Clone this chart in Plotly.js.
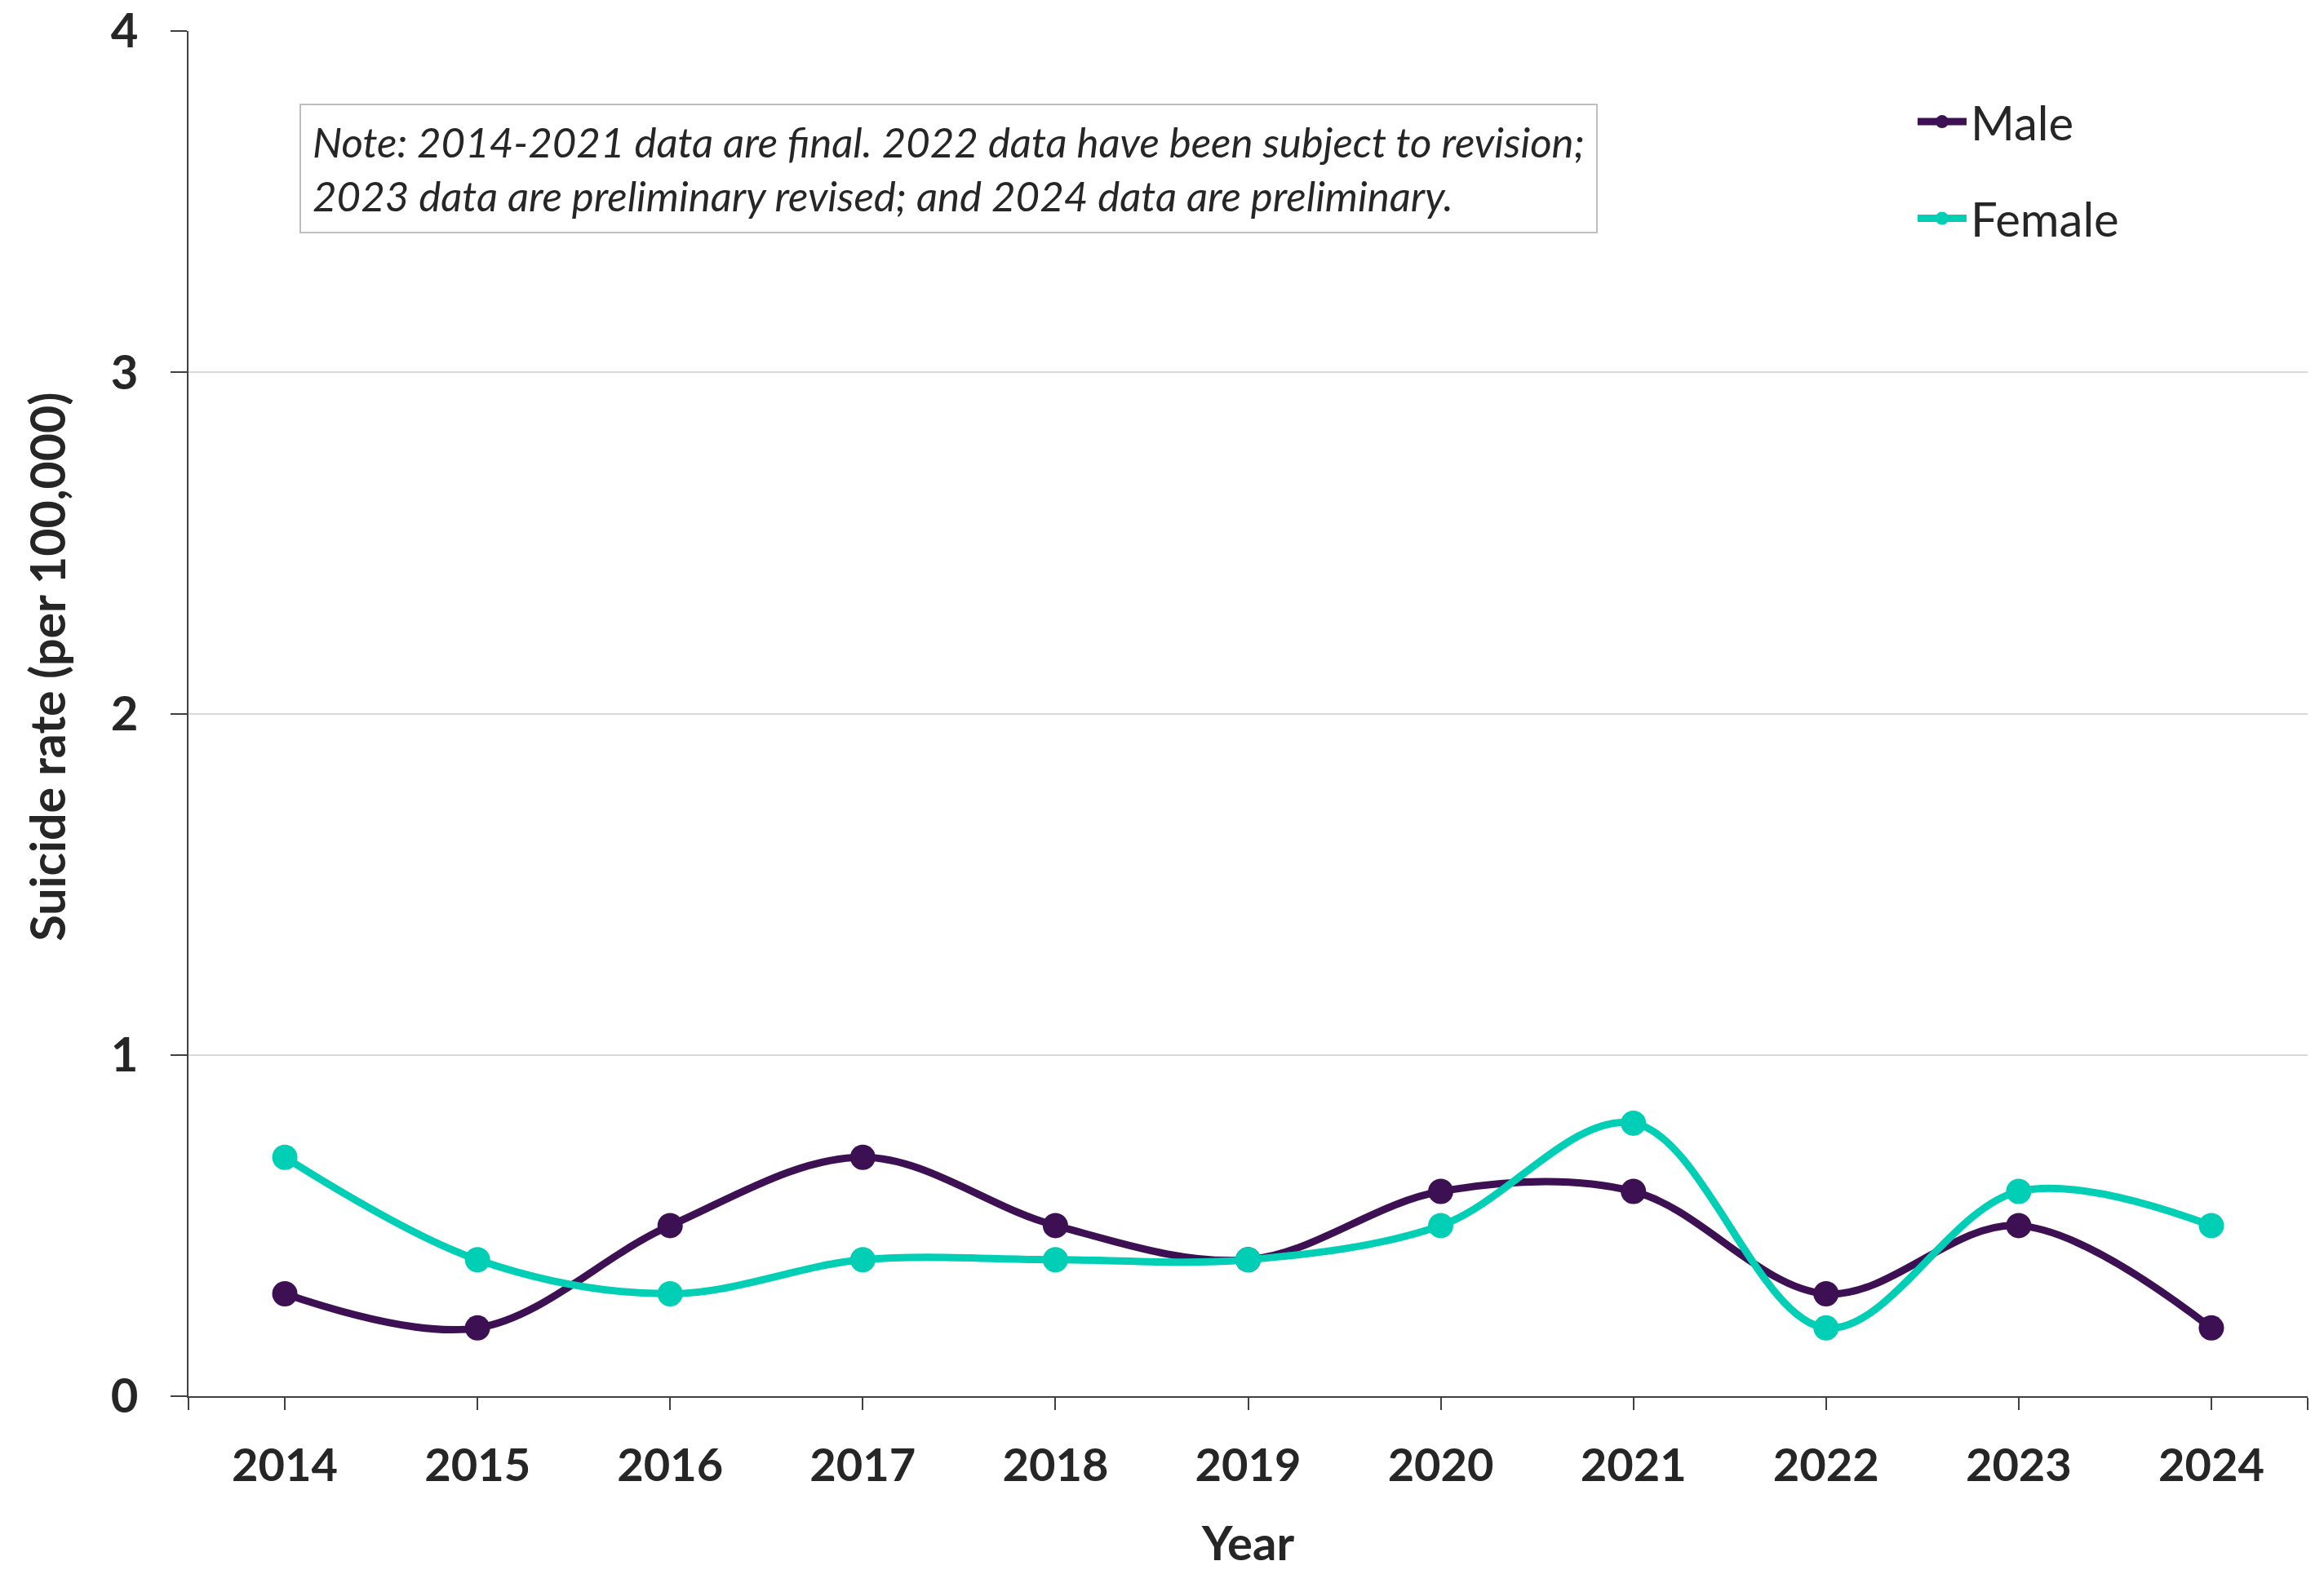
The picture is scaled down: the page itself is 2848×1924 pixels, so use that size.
<!DOCTYPE html>
<html>
<head>
<meta charset="utf-8">
<script src="https://cdn.plot.ly/plotly-3.0.1.min.js"></script>
<style>html,body{margin:0;padding:0;background:#fff;}#chart{width:2848px;height:1924px;}</style>
</head>
<body>
<div id="chart"></div>
<script>
const years = [2014, 2015, 2016, 2017, 2018, 2019, 2020, 2021, 2022, 2023, 2024];
const maleRates = [0.3, 0.2, 0.5, 0.7, 0.5, 0.4, 0.6, 0.6, 0.3, 0.5, 0.2];
const femaleRates = [0.7, 0.4, 0.3, 0.4, 0.4, 0.4, 0.5, 0.8, 0.2, 0.6, 0.5];
const seriesNames = ["Male", "Female"];
const yTicks = [0, 1, 2, 3, 4];
const noteText = "Note: 2014-2021 data are final. 2022 data have been subject to revision;<br>2023 data are preliminary revised; and 2024 data are preliminary.";

const MALE = "#3c1053";
const FEMALE = "#00cfb5";
const TXT = "#262626";
const FONT = "Lato, 'Open Sans', sans-serif";

const edgeTicks = [years[0] - 0.5].concat(years, [years[years.length - 1] + 0.5]);
const edgeText = [""].concat(years.map(String), [""]);

const traces = [
  {x: years, y: maleRates, name: seriesNames[0], type: "scatter", mode: "lines+markers",
   legendgroup: "m",
   line: {color: MALE, width: 9, shape: "spline", smoothing: 1},
   marker: {color: MALE, size: 31}},
  {x: years, y: femaleRates, name: seriesNames[1], type: "scatter", mode: "lines+markers",
   legendgroup: "f",
   line: {color: FEMALE, width: 9, shape: "spline", smoothing: 1},
   marker: {color: FEMALE, size: 31}}
];

const layout = {
  width: 2848, height: 1924,
  paper_bgcolor: "#ffffff", plot_bgcolor: "#ffffff",
  margin: {l: 231, r: 20, t: 38, b: 213},
  font: {family: FONT, color: TXT},
  showlegend: true,
  legend: {
    x: 0.814, y: 0.960, xanchor: "left", yanchor: "top",
    font: {family: FONT, size: 58, color: TXT},
    tracegroupgap: 40, itemwidth: 60, bgcolor: "rgba(0,0,0,0)"
  },
  xaxis: {
    range: [years[0] - 0.5, years[years.length - 1] + 0.5],
    tickmode: "array", tickvals: edgeTicks, ticktext: edgeText,
    ticks: "outside", ticklen: 15, tickwidth: 2, tickcolor: "#404040",
    showline: true, linecolor: "#404040", linewidth: 2,
    showgrid: false, zeroline: false,
    tickfont: {family: FONT, size: 56, color: TXT, weight: "bold"},
    ticklabelstandoff: 20,
    title: {text: "<b>Year</b>", font: {family: FONT, size: 58, color: TXT}, standoff: 60}
  },
  yaxis: {
    range: [0, 4], tickmode: "array", tickvals: yTicks,
    ticks: "outside", ticklen: 20, tickwidth: 2, tickcolor: "#404040",
    showline: true, linecolor: "#404040", linewidth: 2,
    showgrid: true, gridcolor: "#d9d9d9", gridwidth: 2, zeroline: false,
    tickfont: {family: FONT, size: 58, color: TXT, weight: "bold"},
    ticklabelstandoff: 28,
    title: {text: "<b>&nbsp;&nbsp;&nbsp;&nbsp;&nbsp;&nbsp;&nbsp;&nbsp;Suicide rate (per 100,000)</b>", font: {family: FONT, size: 59, color: TXT}, standoff: 36}
  },
  annotations: [{
    xref: "paper", yref: "paper", x: 0.0524, y: 0.947, xanchor: "left", yanchor: "top",
    text: "<i>" + noteText.split("<br>").join("</i><br><i>") + "</i>",
    align: "left", showarrow: false,
    font: {family: FONT, size: 51, color: TXT},
    bordercolor: "#bfbfbf", borderwidth: 2, borderpad: 14, bgcolor: "#ffffff"
  }]
};

Plotly.newPlot("chart", traces, layout, {displayModeBar: false, staticPlot: true});
</script>
</body>
</html>
